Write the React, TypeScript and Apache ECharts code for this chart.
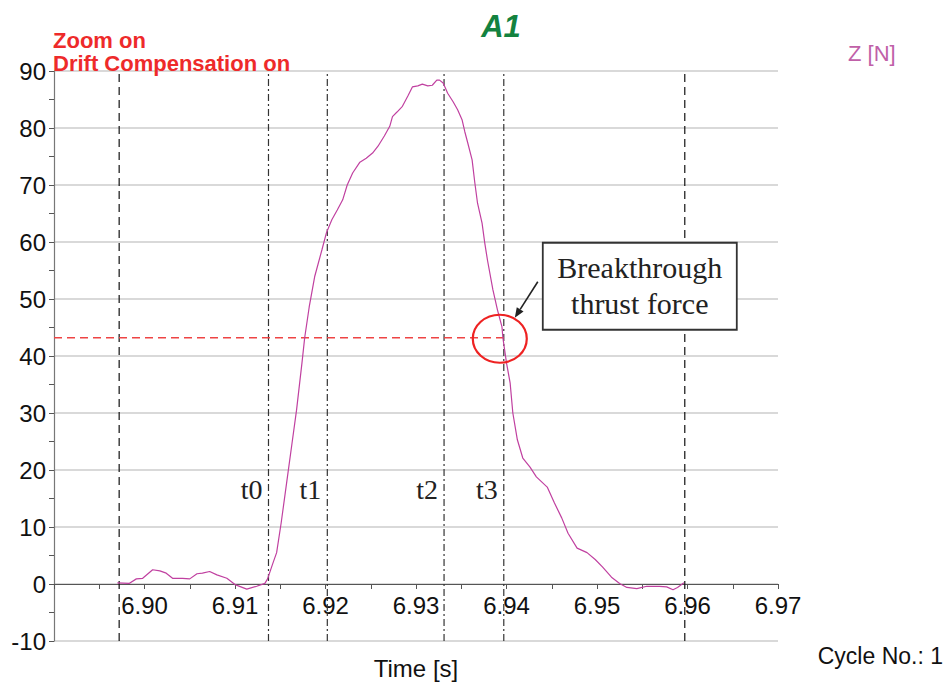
import React, { useEffect, useRef } from "react";
import * as echarts from "echarts";

const timeS = [
  6.8970, 6.8983, 6.8991, 6.8998, 6.9009, 6.9017, 6.9024, 6.9031, 6.9042, 6.9050,
  6.9058, 6.9064, 6.9072, 6.9080, 6.9091, 6.9100, 6.9113, 6.9124, 6.9133, 6.9136,
  6.9142, 6.9146, 6.9151, 6.9157, 6.9163, 6.9168, 6.9174, 6.9177, 6.9182, 6.9188,
  6.9196, 6.9201, 6.9207, 6.9213, 6.9219, 6.9224, 6.9230, 6.9238, 6.9245, 6.9252,
  6.9258, 6.9265, 6.9271, 6.9274, 6.9279, 6.9285, 6.9291, 6.9296, 6.9302, 6.9307,
  6.9313, 6.9318, 6.9323, 6.9326, 6.9330, 6.9335, 6.9341, 6.9346, 6.9351, 6.9354,
  6.9357, 6.9362, 6.9365, 6.9368, 6.9373, 6.9376, 6.9379, 6.9385, 6.9390, 6.9395,
  6.9396, 6.9400, 6.9404, 6.9407, 6.9412, 6.9418, 6.9426, 6.9433, 6.9445, 6.9453,
  6.9461, 6.9468, 6.9478, 6.9489, 6.9498, 6.9506, 6.9516, 6.9525, 6.9533, 6.9544,
  6.9555, 6.9569, 6.9577, 6.9584, 6.9589, 6.9596,
];
const forceZ = [
  0.2, 0.1, 0.9, 1.0, 2.5, 2.3, 1.9, 1.0, 1.0, 0.9,
  1.8, 1.9, 2.2, 1.6, 1.0, -0.1, -0.9, -0.4, 0.1, 0.9,
  3.7, 5.5, 10.7, 17.7, 24.7, 30.5, 38.8, 43.2, 48.6, 53.9,
  58.6, 61.6, 63.9, 65.6, 67.4, 70.0, 72.1, 74.0, 74.7, 75.6,
  76.8, 78.6, 80.3, 82.0, 82.8, 83.8, 85.6, 87.2, 87.4, 87.7,
  87.4, 87.5, 88.4, 88.4, 87.9, 86.1, 84.6, 83.2, 81.4, 79.3,
  77.5, 74.4, 70.4, 66.8, 63.3, 59.8, 56.8, 51.6, 48.1, 45.1,
  43.2, 38.8, 35.3, 30.0, 25.3, 22.1, 20.5, 18.8, 17.0, 14.2,
  11.6, 8.9, 6.3, 5.5, 4.3, 3.0, 1.2, 0.1, -0.6, -0.8,
  -0.4, -0.4, -0.5, -1.0, -0.6, 0.2,
];

const boundaryTimes = [6.8972, 6.9597];
const phaseTimes = [6.9137, 6.9202, 6.9331, 6.9397];
const phaseLabels = ["t0", "t1", "t2", "t3"];
const breakthroughForce = 43.2;
const breakthroughTime = 6.9397;

const X_MIN = 6.89;
const X_MAX = 6.97;
const X_STEP = 0.01;
const Y_MIN = -10;
const Y_MAX = 90;
const Y_STEP = 10;

const SANS = "'Liberation Sans', Arial, sans-serif";
const SERIF = "'Liberation Serif', 'Times New Roman', serif";

function refLine(points: number[][], color: string, width: number, type: any) {
  return {
    type: "line",
    data: points,
    showSymbol: false,
    silent: true,
    animation: false,
    lineStyle: { color, width, type },
    z: 3,
  };
}

export default function App() {
  const ref = useRef<HTMLDivElement>(null);

  useEffect(() => {
    if (!ref.current) return;
    const chart = echarts.init(ref.current, undefined, { renderer: "svg" });

    const series: any[] = [];
    boundaryTimes.forEach((t) =>
      series.push(refLine([[t, Y_MIN], [t, Y_MAX]], "#111", 1.2, [8, 5]))
    );
    phaseTimes.forEach((t) =>
      series.push(refLine([[t, Y_MIN], [t, Y_MAX]], "#333", 1.2, [7, 3, 2, 3]))
    );
    series.push(
      refLine(
        [[X_MIN, breakthroughForce], [breakthroughTime, breakthroughForce]],
        "#ee4444",
        1.4,
        [8, 5]
      )
    );
    series.push({
      type: "line",
      name: "Z [N]",
      data: timeS.map((t, i) => [t, forceZ[i]]),
      showSymbol: false,
      lineStyle: { color: "#c040a0", width: 1.2 },
      z: 5,
    });

    const option: any = {
      animation: false,
      backgroundColor: "#ffffff",
      grid: {
        left: 54,
        right: 169,
        top: 71,
        bottom: 41,
        containLabel: false,
        outerBoundsMode: "none",
      },
      xAxis: {
        type: "value",
        min: X_MIN,
        max: X_MAX,
        interval: X_STEP,
        offset: 0,
        axisLine: { show: true, onZero: false, lineStyle: { color: "#555", width: 1.2 } },
        axisTick: { show: true, length: 5, lineStyle: { color: "#555" } },
        minorTick: { show: true, splitNumber: 2, length: 5, lineStyle: { color: "#555" } },
        splitLine: { show: false },
        axisLabel: {
          fontSize: 24,
          color: "#111",
          fontFamily: SANS,
          margin: 9,
          formatter: (v: number) => (v < X_MIN + X_STEP / 2 ? "" : v.toFixed(2)),
        },
      },
      yAxis: {
        type: "value",
        min: Y_MIN,
        max: Y_MAX,
        interval: Y_STEP,
        axisLine: { show: true, onZero: false, lineStyle: { color: "#777", width: 1.2 } },
        axisTick: { show: true, length: 5, lineStyle: { color: "#555" } },
        minorTick: { show: true, splitNumber: 2, length: 5, lineStyle: { color: "#555" } },
        splitLine: { show: true, lineStyle: { color: "#cccccc", width: 1.5 } },
        axisLabel: { fontSize: 24, color: "#111", fontFamily: SANS, margin: 8 },
      },
      series,
    };
    chart.setOption(option);

    const toPx = (x: number, y: number) =>
      chart.convertToPixel({ gridIndex: 0 }, [x, y]) as number[];

    // move the time axis up onto the zero line (labels follow it)
    const zeroPx = toPx(X_MIN, 0);
    const bottomPx = toPx(X_MIN, Y_MIN);
    chart.setOption({ xAxis: { offset: -(bottomPx[1] - zeroPx[1]) } });

    const p = toPx(breakthroughTime, breakthroughForce);
    const bx = p[0];
    const by = p[1];
    const gl = toPx(X_MIN, Y_MIN);
    const gr = toPx(X_MAX, Y_MIN);

    const gfx: any[] = [
      {
        type: "text",
        style: {
          x: 501,
          y: 26,
          text: "A1",
          fill: "#13823f",
          font: `italic bold 31px ${SANS}`,
          align: "center",
          verticalAlign: "middle",
        },
      },
      {
        type: "text",
        style: {
          x: 53,
          y: 29,
          text: "Zoom on",
          fill: "#ee2a2a",
          font: `bold 22px ${SANS}`,
          verticalAlign: "top",
        },
      },
      {
        type: "text",
        style: {
          x: 53,
          y: 52,
          text: "Drift Compensation on",
          fill: "#ee2a2a",
          font: `bold 22px ${SANS}`,
          verticalAlign: "top",
        },
      },
      {
        type: "text",
        style: {
          x: 848,
          y: 42,
          text: "Z [N]",
          fill: "#c060a8",
          font: `22px ${SANS}`,
          verticalAlign: "top",
        },
      },
      {
        type: "text",
        style: {
          x: (gl[0] + gr[0]) / 2,
          y: 668,
          text: "Time [s]",
          fill: "#111",
          font: `24px ${SANS}`,
          align: "center",
          verticalAlign: "middle",
        },
      },
      {
        type: "text",
        style: {
          x: 943,
          y: 656,
          text: "Cycle No.: 1",
          fill: "#111",
          font: `23px ${SANS}`,
          align: "right",
          verticalAlign: "middle",
        },
      },
    ];

    phaseTimes.forEach((t, i) => {
      const q = toPx(t, 16.5);
      gfx.push({
        type: "text",
        style: {
          x: q[0] - 6,
          y: q[1],
          text: phaseLabels[i],
          fill: "#222",
          font: `28px ${SERIF}`,
          align: "right",
          verticalAlign: "middle",
        },
      });
    });

    gfx.push({
      type: "ellipse",
      shape: { cx: bx - 4, cy: by + 1, rx: 27, ry: 24 },
      style: { fill: "none", stroke: "#ee2222", lineWidth: 2.2 },
      z: 10,
    });
    const boxX = bx + 39;
    const boxY = by - 95;
    gfx.push({
      type: "rect",
      shape: { x: boxX, y: boxY, width: 194, height: 87 },
      style: { fill: "#ffffff", stroke: "#333", lineWidth: 1.8 },
      z: 10,
    });
    gfx.push({
      type: "text",
      style: {
        x: boxX + 97,
        y: boxY + 25,
        text: "Breakthrough",
        fill: "#222",
        font: `30px ${SERIF}`,
        align: "center",
        verticalAlign: "middle",
      },
      z: 11,
    });
    gfx.push({
      type: "text",
      style: {
        x: boxX + 97,
        y: boxY + 61,
        text: "thrust force",
        fill: "#222",
        font: `30px ${SERIF}`,
        align: "center",
        verticalAlign: "middle",
      },
      z: 11,
    });
    const ax0 = bx + 34, ay0 = by - 56;
    const ax1 = bx + 11, ay1 = by - 20;
    const ang = Math.atan2(ay1 - ay0, ax1 - ax0);
    const hl = 10, hw = 4;
    const baseX = ax1 - hl * Math.cos(ang), baseY = ay1 - hl * Math.sin(ang);
    gfx.push({
      type: "line",
      shape: { x1: ax0, y1: ay0, x2: baseX, y2: baseY },
      style: { stroke: "#222", lineWidth: 1.6 },
      z: 10,
    });
    gfx.push({
      type: "polygon",
      shape: {
        points: [
          [ax1, ay1],
          [baseX + hw * Math.sin(ang), baseY - hw * Math.cos(ang)],
          [baseX - hw * Math.sin(ang), baseY + hw * Math.cos(ang)],
        ],
      },
      style: { fill: "#222" },
      z: 10,
    });

    chart.setOption({ graphic: gfx });

    return () => chart.dispose();
  }, []);

  return (
    <div
      ref={ref}
      style={{ position: "fixed", left: 0, top: 0, width: 947, height: 682, background: "#fff" }}
    />
  );
}
